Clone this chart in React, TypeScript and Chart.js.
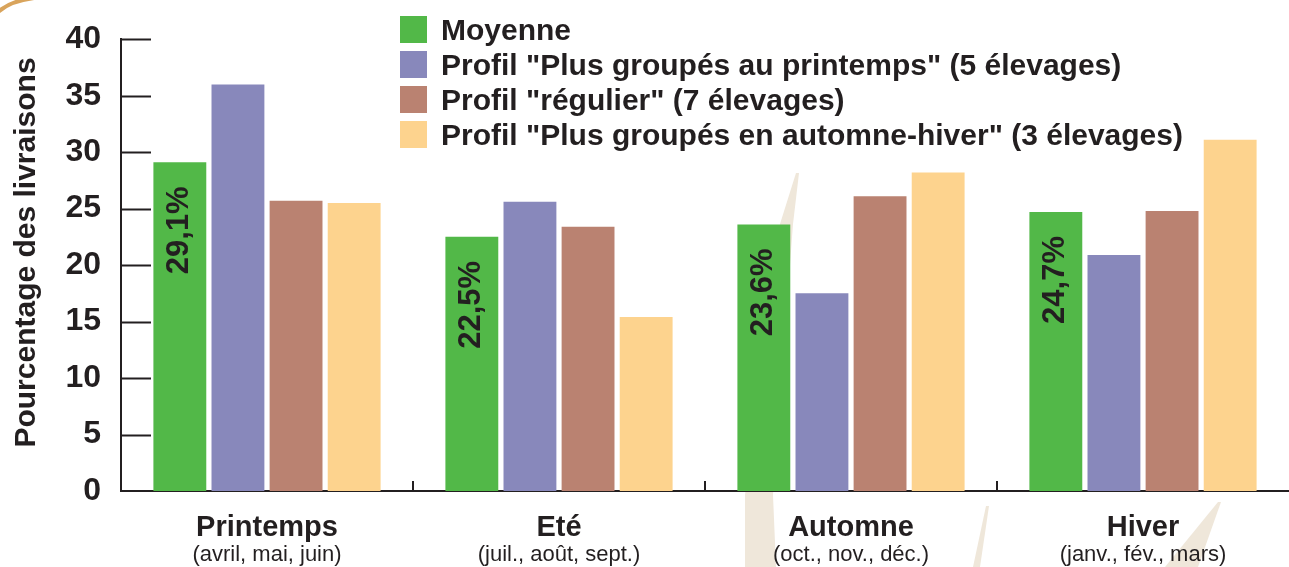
import React, { useEffect, useRef } from "react";
import { Chart, registerables } from "chart.js";

Chart.register(...registerables);

const seasons = ["Printemps", "Eté", "Automne", "Hiver"];
const seasonMonths = ["(avril, mai, juin)", "(juil., août, sept.)", "(oct., nov., déc.)", "(janv., fév., mars)"];
const seriesNames = [
  "Moyenne",
  'Profil "Plus groupés au printemps" (5 élevages)',
  'Profil "régulier" (7 élevages)',
  'Profil "Plus groupés en automne-hiver" (3 élevages)',
];
const moyenne = [29.1, 22.5, 23.6, 24.7];
const profilPrintemps = [36.0, 25.6, 17.5, 20.9];
const profilRegulier = [25.7, 23.4, 26.1, 24.8];
const profilAutomneHiver = [25.5, 15.4, 28.2, 31.1];
const yTicks = [0, 5, 10, 15, 20, 25, 30, 35, 40];
const seriesColors = ["#52b848", "#8888bb", "#ba8271", "#fdd38e"];

const INK = "#231f20";
const FONT = '"Liberation Sans", Arial, Helvetica, sans-serif';

const decorPlugin = {
  id: "decor",
  beforeDraw(chart: any) {
    const ctx = chart.ctx;
    ctx.save();
    ctx.fillStyle = "#ffffff";
    ctx.fillRect(0, 0, chart.width, chart.height);
    ctx.fillStyle = "#efe7da";
    ctx.beginPath();
    ctx.moveTo(796, 173);
    ctx.lineTo(799, 173);
    ctx.lineTo(793, 224);
    ctx.lineTo(773, 495);
    ctx.lineTo(776, 567);
    ctx.lineTo(745, 567);
    ctx.lineTo(745, 495);
    ctx.lineTo(780, 224);
    ctx.closePath();
    ctx.fill();
    ctx.beginPath();
    ctx.moveTo(986, 506);
    ctx.lineTo(989, 506);
    ctx.lineTo(980, 567);
    ctx.lineTo(973, 567);
    ctx.closePath();
    ctx.fill();
    ctx.beginPath();
    ctx.moveTo(1218, 502);
    ctx.lineTo(1221, 502);
    ctx.lineTo(1198, 567);
    ctx.lineTo(1165, 567);
    ctx.closePath();
    ctx.fill();
    ctx.strokeStyle = "#d9a45c";
    ctx.lineWidth = 4;
    ctx.beginPath();
    ctx.moveTo(-2, 12);
    ctx.quadraticCurveTo(10, 1, 34, -2);
    ctx.stroke();
    ctx.restore();
  },
};

const overlayPlugin = {
  id: "overlay",
  afterDraw(chart: any) {
    const ctx = chart.ctx;
    const area = chart.chartArea;
    const xs = chart.scales.x;
    const ys = chart.scales.y;
    ctx.save();
    // inward ticks on y axis
    ctx.strokeStyle = INK;
    ctx.lineWidth = 2;
    yTicks.forEach((v) => {
      if (v === 0) return;
      const y = Math.round(ys.getPixelForValue(v)) + 0.5;
      ctx.beginPath();
      ctx.moveTo(area.left, y);
      ctx.lineTo(area.left + 30, y);
      ctx.stroke();
    });
    // small upward ticks between categories
    for (let i = 1; i < seasons.length; i++) {
      const x = Math.round((xs.getPixelForValue(i - 1) + xs.getPixelForValue(i)) / 2);
      ctx.beginPath();
      ctx.moveTo(x, area.bottom);
      ctx.lineTo(x, area.bottom - 10);
      ctx.stroke();
    }
    // category labels
    ctx.fillStyle = INK;
    ctx.textAlign = "center";
    ctx.textBaseline = "alphabetic";
    seasons.forEach((s, i) => {
      const x = xs.getPixelForValue(i);
      ctx.font = `bold 29px ${FONT}`;
      ctx.fillText(s, x, area.bottom + 45);
      ctx.font = `22px ${FONT}`;
      ctx.fillText(seasonMonths[i], x, area.bottom + 70);
    });
    // y title
    ctx.save();
    ctx.translate(35, 252.5);
    ctx.rotate(-Math.PI / 2);
    ctx.font = `bold 30px ${FONT}`;
    ctx.textAlign = "center";
    ctx.textBaseline = "alphabetic";
    ctx.fillText("Pourcentage des livraisons", 0, 0);
    ctx.restore();
    // value labels on green bars
    const meta = chart.getDatasetMeta(0);
    meta.data.forEach((el: any, i: number) => {
      ctx.save();
      ctx.translate(el.x, el.y + 24);
      ctx.rotate(-Math.PI / 2);
      ctx.font = `bold 31px ${FONT}`;
      ctx.textAlign = "right";
      ctx.textBaseline = "middle";
      ctx.fillText(moyenne[i].toFixed(1).replace(".", ",") + "%", 0, 0);
      ctx.restore();
    });
    // legend
    seriesNames.forEach((name, i) => {
      const cy = 29.5 + i * 35;
      ctx.fillStyle = seriesColors[i];
      ctx.fillRect(400, cy - 13.5, 27, 27);
      ctx.fillStyle = INK;
      ctx.font = `bold 30px ${FONT}`;
      ctx.textAlign = "left";
      ctx.textBaseline = "alphabetic";
      ctx.fillText(name, 441, cy + 10.5);
    });
    ctx.restore();
  },
};

export default function App() {
  const ref = useRef<HTMLCanvasElement | null>(null);
  useEffect(() => {
    if (!ref.current) return;
    const chart = new Chart(ref.current, {
      type: "bar",
      data: {
        labels: seasons,
        datasets: [
          { label: seriesNames[0], data: moyenne, backgroundColor: seriesColors[0] },
          { label: seriesNames[1], data: profilPrintemps, backgroundColor: seriesColors[1] },
          { label: seriesNames[2], data: profilRegulier, backgroundColor: seriesColors[2] },
          { label: seriesNames[3], data: profilAutomneHiver, backgroundColor: seriesColors[3] },
        ],
      },
      options: {
        animation: false,
        responsive: false,
        maintainAspectRatio: false,
        datasets: { bar: { categoryPercentage: 0.796, barPercentage: 0.91, borderWidth: 0 } },
        layout: { padding: { top: 39, left: 0, right: 0, bottom: 0 } },
        plugins: { legend: { display: false }, tooltip: { enabled: false } },
        scales: {
          x: {
            ticks: { display: false },
            grid: { display: false },
            border: { display: true, color: INK, width: 2 },
            afterFit: (s: any) => {
              s.height = 76;
            },
          },
          y: {
            min: 0,
            max: 40,
            afterBuildTicks: (s: any) => {
              s.ticks = yTicks.map((v) => ({ value: v }));
            },
            ticks: {
              color: INK,
              font: { family: FONT, size: 32, weight: "bold" },
              padding: 20,
            },
            grid: { display: false, drawTicks: false },
            border: { display: true, color: INK, width: 2 },
            afterFit: (s: any) => {
              s.width = 121;
            },
          },
        },
      },
      plugins: [decorPlugin, overlayPlugin],
    } as any);
    return () => chart.destroy();
  }, []);
  return (
    <div style={{ position: "absolute", left: 0, top: 0, width: 1289, height: 567, background: "#fff" }}>
      <canvas ref={ref} width={1289} height={567} style={{ display: "block" }} />
    </div>
  );
}
